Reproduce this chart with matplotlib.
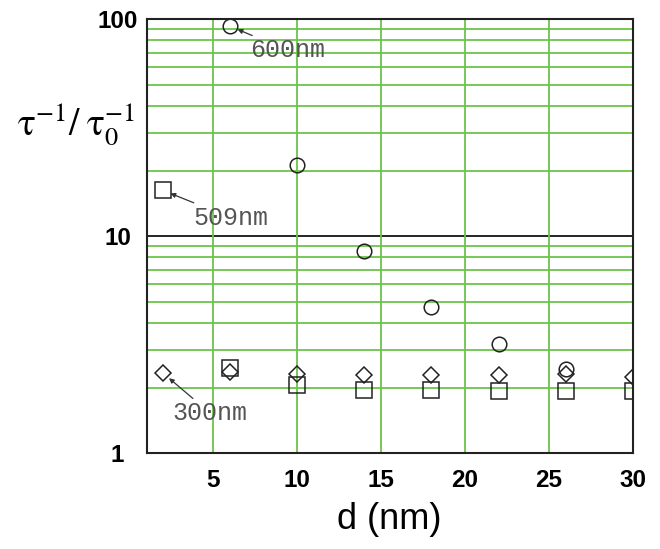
import matplotlib
matplotlib.use('Agg')
import matplotlib.pyplot as plt
from matplotlib.ticker import LogLocator, NullFormatter

# ============ data ============
d_600 = [6, 10, 14, 18, 22, 26]
rate_600 = [93, 21.4, 8.6, 4.73, 3.2, 2.44]

d_509 = [2, 6, 10, 14, 18, 22, 26, 30]
rate_509 = [16.3, 2.48, 2.06, 1.95, 1.95, 1.93, 1.94, 1.94]

d_300 = [2, 6, 10, 14, 18, 22, 26, 30]
rate_300 = [2.35, 2.36, 2.33, 2.29, 2.29, 2.29, 2.31, 2.25]

x_ticks = [5, 10, 15, 20, 25, 30]
y_ticks = [1, 10, 100]
y_ticklabels = ['1', '10', '100']

GREEN = '#6cc44a'

fig = plt.figure(figsize=(6.6, 5.49), dpi=100)
ax = fig.add_axes([0.2223, 0.1743, 0.9591 - 0.2223, 0.9648 - 0.1743])

ax.set_yscale('log')
ax.set_xlim(1.05, 30)
ax.set_ylim(1, 100)

# grid: green lines, black line at 10
ax.yaxis.set_minor_locator(LogLocator(base=10, subs=range(2, 10)))
ax.yaxis.set_minor_formatter(NullFormatter())
ax.grid(which='minor', axis='y', color=GREEN, lw=1.3, zorder=0)
ax.set_xticks(x_ticks)
ax.grid(which='major', axis='x', color=GREEN, lw=1.3, zorder=0)
ax.axhline(10, color='black', lw=1.2, zorder=1)

ax.set_yticks(y_ticks)
ax.set_yticklabels(y_ticklabels)
ax.tick_params(which='both', length=0)
ax.tick_params(axis='x', pad=11, labelsize=17.5)
ax.tick_params(axis='y', pad=21, labelsize=17.5)
for lab in ax.get_xticklabels() + ax.get_yticklabels():
    lab.set_fontweight('bold')
    lab.set_family('Liberation Sans')
for lab in ax.get_yticklabels():
    lab.set_ha('center')

for sp in ax.spines.values():
    sp.set_color('#222222')
    sp.set_linewidth(1.5)

mk = dict(linestyle='none', markerfacecolor='none', markeredgecolor='#222222',
          markeredgewidth=1.1, zorder=3)
ax.plot(d_300, rate_300, marker='D', markersize=8.3, **mk)
ax.plot(d_509, rate_509, marker='s', markersize=11, **mk)
ax.plot(d_600, rate_600, marker='o', markersize=10.5, **mk)

# labels with little arrows
note_font = dict(family='Liberation Mono', fontsize=18, color='#555555')
arrow = dict(arrowstyle='-|>', color='#333333', lw=0.9, mutation_scale=7,
             shrinkA=0, shrinkB=6)
ax.annotate('600nm', xy=(d_600[0], rate_600[0]), xytext=(7.2, 72),
            ha='left', va='center', arrowprops=arrow, **note_font)
ax.annotate('509nm', xy=(d_509[0], rate_509[0]), xytext=(3.8, 12.2),
            ha='left', va='center', arrowprops=arrow, **note_font)
ax.annotate('300nm', xy=(d_300[0], rate_300[0]), xytext=(2.6, 1.53),
            ha='left', va='center', arrowprops=arrow, **note_font)

# axis titles
fig.text(0.59, 0.053, 'd (nm)', ha='center', va='center', fontsize=26,
         family='Liberation Sans')
fig.text(0.026, 0.772, r'$\mathrm{\tau}^{-1}/\;\mathrm{\tau}_{0}^{-1}$',
         ha='left', va='center', fontsize=27, math_fontfamily='stix')

fig.savefig('out.png', dpi=100)
